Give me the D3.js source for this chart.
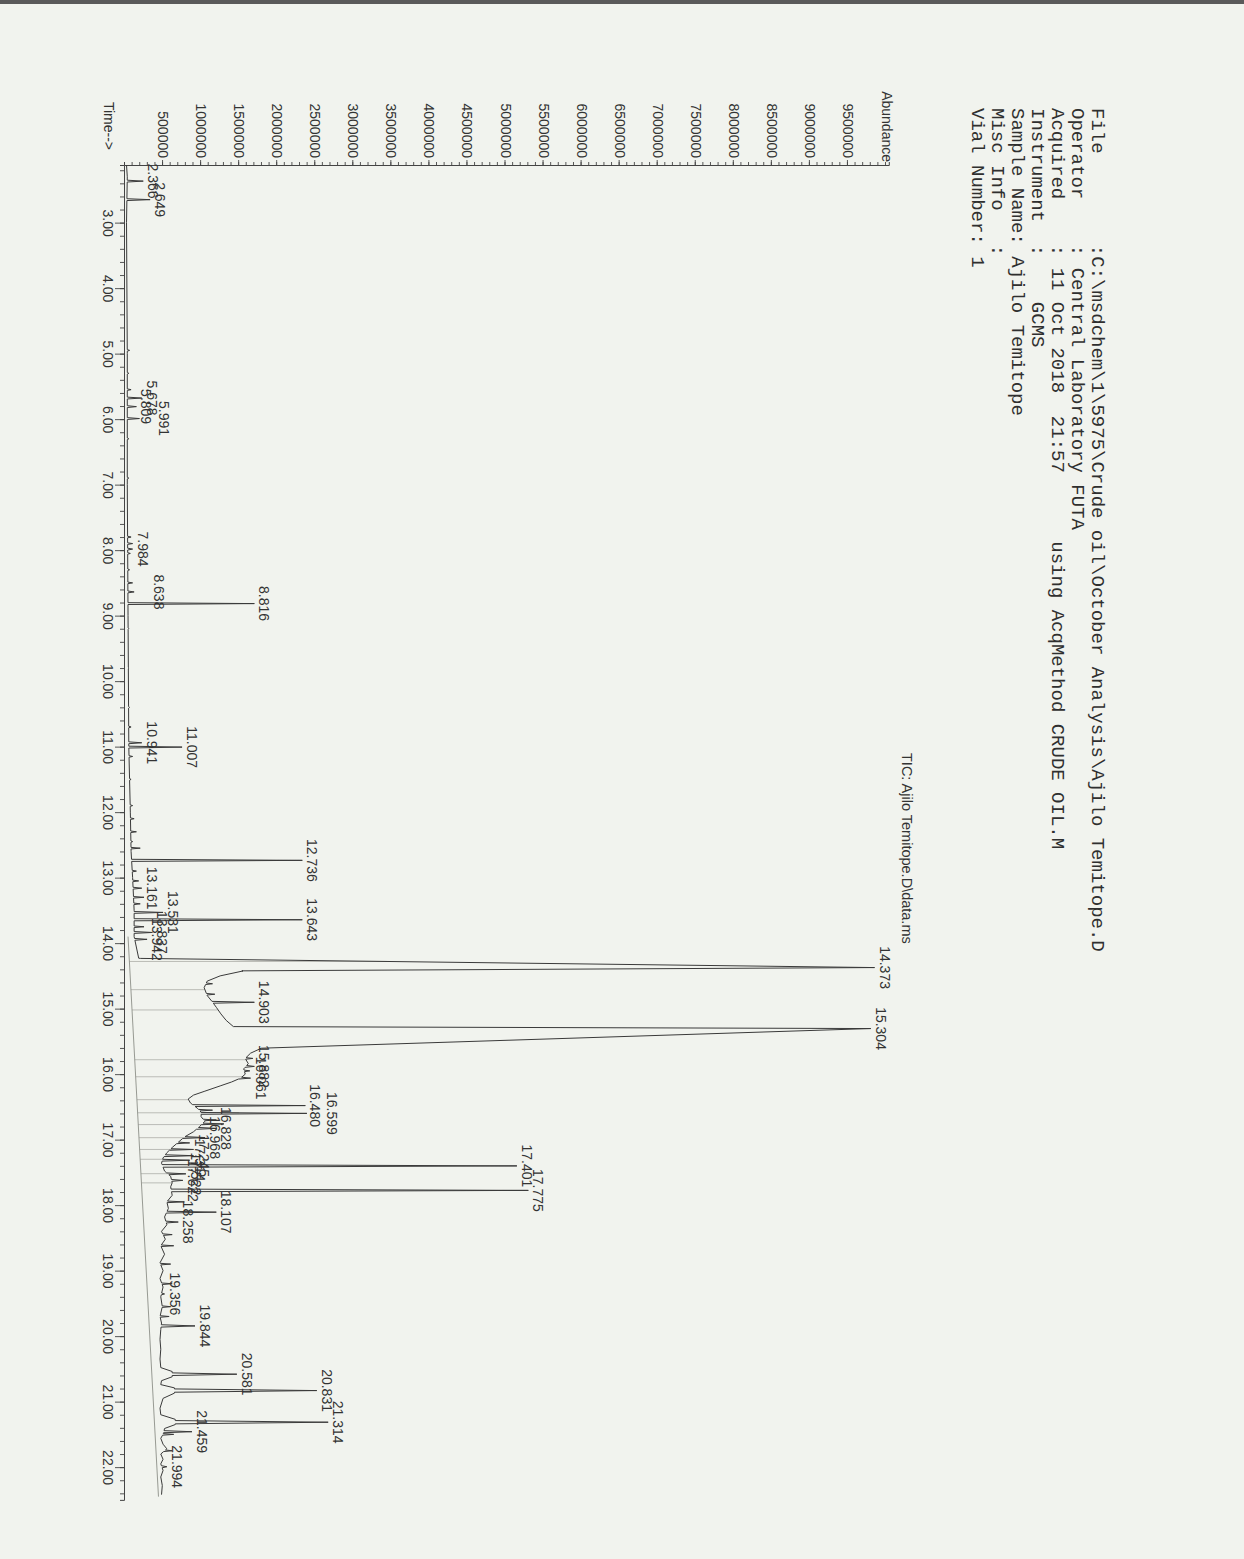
<!DOCTYPE html>
<html><head><meta charset="utf-8">
<script src="https://cdn.jsdelivr.net/npm/d3@7"></script>
<style>html,body{margin:0;padding:0;background:#f1f3ee;} svg{display:block}</style>
</head><body><svg id="c" width="1244" height="1559"></svg>
<script>
// ---------------- DATA ----------------
const headerLines = [
  "File        :C:\\msdchem\\1\\5975\\Crude oil\\October Analysis\\Ajilo Temitope.D",
  "Operator    : Central Laboratory FUTA",
  "Acquired    : 11 Oct 2018  21:57      using AcqMethod CRUDE OIL.M",
  "Instrument  :    GCMS",
  "Sample Name: Ajilo Temitope",
  "Misc Info   : ",
  "Vial Number: 1"
];
const ticLabel = "TIC: Ajilo Temitope.D\\data.ms";
const yAxisTitle = "Abundance";
const xAxisTitle = "Time-->";

const timeMin = 2.12, timeMax = 22.5;
const abundMax = 10050000;
const timeMajor = [3,4,5,6,7,8,9,10,11,12,13,14,15,16,17,18,19,20,21,22];
const abundTicks = [500000,1000000,1500000,2000000,2500000,3000000,3500000,4000000,4500000,5000000,5500000,6000000,6500000,7000000,7500000,8000000,8500000,9000000,9500000];

// labelled peaks: retention time, apex abundance, left / right base half-widths (min)
const peakRT    = [2.366,2.649,5.678,5.809,5.991,7.984,8.638,8.816,10.941,11.007,12.736,13.161,13.531,13.643,13.837,13.942,14.373,14.903,15.304,15.882,16.061,16.480,16.599,16.828,16.968,17.245,17.314,17.401,17.522,17.622,17.775,18.107,18.258,19.356,19.844,20.581,20.831,21.314,21.459,21.994];
const peakAbund = [240000,330000,220000,150000,190000,100000,120000,1700000,220000,750000,2330000,220000,500000,2330000,360000,290000,9850000,1700000,9800000,1700000,1650000,2370000,2390000,1200000,1050000,900000,850000,5150000,800000,760000,5300000,1200000,700000,520000,920000,1470000,2520000,2670000,880000,550000];
const peakWL    = [0.014,0.014,0.014,0.014,0.014,0.014,0.014,0.014,0.014,0.014,0.016,0.014,0.014,0.016,0.014,0.014,0.14,0.014,0.03,0.014,0.014,0.014,0.014,0.014,0.014,0.014,0.014,0.02,0.014,0.014,0.02,0.014,0.014,0.014,0.018,0.02,0.025,0.025,0.016,0.016];
const peakWR    = [0.014,0.014,0.014,0.014,0.014,0.014,0.014,0.014,0.014,0.014,0.016,0.014,0.014,0.016,0.014,0.014,0.05,0.014,0.30,0.014,0.014,0.014,0.014,0.014,0.014,0.014,0.014,0.02,0.014,0.014,0.02,0.014,0.014,0.014,0.018,0.02,0.025,0.025,0.016,0.016];

// small unlabelled peaks
const minorRT    = [4.95,5.30,5.55,6.30,6.90,7.80,7.90,8.05,8.30,8.50,9.20,9.80,10.40,10.70,11.15,11.50,11.90,12.10,12.30,12.45,12.55,12.90,13.05,13.30,13.40,13.75,14.62,14.78,15.76,15.95,16.55,16.70,16.76,17.05,17.15,17.95,18.45,18.62,18.90,19.20,19.55,19.70,21.50,21.75];
const minorAbund = [60000,50000,80000,50000,50000,80000,100000,70000,60000,100000,50000,50000,60000,80000,100000,80000,100000,120000,150000,100000,200000,150000,180000,250000,200000,250000,1150000,1180000,1680000,1640000,1150000,1200000,1300000,850000,900000,780000,620000,640000,600000,620000,600000,580000,640000,620000];

// background trace (baseline + unresolved hump)
const bgT = [2.12,2.30,3.00,5.00,7.00,9.00,11.00,12.00,12.60,13.00,13.50,13.90,14.23,14.425,14.50,14.58,14.68,14.80,14.90,14.98,15.08,15.18,15.27,15.60,15.68,15.76,15.84,15.92,16.00,16.06,16.12,16.18,16.26,16.32,16.38,16.44,16.52,16.58,16.65,16.72,16.80,16.88,16.96,17.04,17.12,17.20,17.28,17.36,17.48,17.56,17.66,17.72,17.85,17.95,18.05,18.18,18.30,18.40,18.52,18.62,18.75,18.88,19.00,19.12,19.25,19.40,19.55,19.70,19.80,19.90,20.05,20.20,20.35,20.48,20.54,20.62,20.68,20.74,20.79,20.87,20.95,21.10,21.20,21.27,21.35,21.41,21.50,21.56,21.65,21.72,21.80,21.88,21.95,22.05,22.15,22.28,22.42];
const bgA = [20000,30000,20000,30000,30000,40000,50000,70000,80000,100000,120000,120000,180000,1550000,1250000,1080000,1040000,1080000,1150000,1200000,1260000,1330000,1420000,1800000,1650000,1580000,1620000,1560000,1580000,1520000,1400000,1250000,1050000,900000,830000,860000,950000,1000000,1000000,1050000,980000,900000,780000,700000,620000,550000,500000,480000,520000,600000,620000,600000,620000,550000,570000,520000,550000,480000,530000,470000,520000,460000,500000,460000,500000,470000,490000,460000,480000,470000,460000,470000,460000,470000,620000,620000,480000,470000,650000,650000,500000,460000,470000,660000,660000,520000,500000,470000,500000,550000,470000,500000,470000,500000,470000,490000,480000];

// integration baseline and drop lines
const intBaseT = [13.90,22.45];
const intBaseA = [40000,440000];
const dropT = [14.28,14.71,15.02,15.78,16.04,16.39,16.59,16.77,16.97,17.15,17.30,17.52,17.66];

// ---------------- DRAW ----------------
const W = 1244, H = 1559;
const svg = d3.select('#c');
svg.append('rect').attr('width', W).attr('height', H).attr('fill', '#f1f3ee');
svg.append('rect').attr('width', W).attr('height', 4).attr('fill', '#5a5a5a');

// landscape page drawn rotated 90deg clockwise
const g = svg.append('g').attr('transform', `translate(${W},0) rotate(90)`);

const pxPerMin = 65.5, pxPerAbund = 76.1e-6;
const x = d3.scaleLinear().domain([timeMin, timeMax]).range([165, 165 + (timeMax - timeMin) * pxPerMin]);
const y = d3.scaleLinear().domain([0, abundMax]).range([1119, 1119 - abundMax * pxPerAbund]);

const ink = '#333';
const sans = "'Liberation Sans', Arial, sans-serif";

// header
g.append('g').selectAll('text').data(headerLines).join('text')
  .attr('x', 108).attr('y', (d, i) => 152 + i * 20)
  .attr('font-family', "'Liberation Mono', 'Courier New', monospace")
  .attr('font-size', 19).attr('fill', '#2f2f2f')
  .style('white-space', 'pre').text(d => d);

// TIC label
g.append('text').attr('x', 753).attr('y', 342).attr('font-family', sans)
  .attr('font-size', 14.5).attr('fill', ink).text(ticLabel);

// axis titles
g.append('text').attr('x', 162).attr('y', 362).attr('text-anchor', 'end')
  .attr('font-family', sans).attr('font-size', 14).attr('fill', ink).text(yAxisTitle);
g.append('text').attr('x', 150).attr('y', 1140).attr('text-anchor', 'end')
  .attr('font-family', sans).attr('font-size', 14).attr('fill', ink).text(xAxisTitle);

// time axis
const minorTimes = d3.range(Math.ceil(timeMin * 5), Math.floor(timeMax * 5) + 1).map(d => d / 5);
const xMinor = g.append('g').attr('transform', `translate(0,${y(0)})`)
  .call(d3.axisBottom(x).tickValues(minorTimes).tickSize(5).tickFormat(''));
const xMajor = g.append('g').attr('transform', `translate(0,${y(0)})`)
  .call(d3.axisBottom(x).tickValues(timeMajor).tickSize(10).tickPadding(2).tickFormat(d => d.toFixed(2)));
xMajor.select('.domain').remove();

// abundance axis
const minorAb = d3.range(1, Math.floor(abundMax / 100000) + 1).map(d => d * 100000);
const yMinor = g.append('g').attr('transform', `translate(${x(timeMin)},0)`)
  .call(d3.axisLeft(y).tickValues(minorAb).tickSize(3).tickFormat(''));
const yMajor = g.append('g').attr('transform', `translate(${x(timeMin)},0)`)
  .call(d3.axisLeft(y).tickValues(abundTicks).tickSize(5).tickPadding(2).tickFormat(d3.format('d')));
yMajor.select('.domain').remove();

[xMinor, xMajor, yMinor, yMajor].forEach(a => {
  a.attr('font-family', sans).attr('font-size', 14);
  a.selectAll('line').attr('stroke', '#444').attr('stroke-width', 0.9);
  a.selectAll('path').attr('stroke', '#444').attr('stroke-width', 1);
  a.selectAll('text').attr('fill', ink);
});

function interp(ts, as, t) {
  const i = d3.bisectRight(ts, t);
  if (i <= 0) return as[0];
  if (i >= ts.length) return as[as.length - 1];
  const f = (t - ts[i - 1]) / (ts[i] - ts[i - 1]);
  return as[i - 1] + (as[i] - as[i - 1]) * f;
}
const spikes = peakRT.map((rt, i) => ({rt, a: peakAbund[i], wl: peakWL[i], wr: peakWR[i]}))
  .concat(minorRT.map((rt, i) => ({rt, a: minorAbund[i], wl: 0.012, wr: 0.012})));
let pts = bgT.map((t, i) => [t, bgA[i]])
  .filter(p => !spikes.some(s => p[0] > s.rt - s.wl && p[0] < s.rt + s.wr));
spikes.forEach(s => {
  pts.push([s.rt - s.wl, interp(bgT, bgA, s.rt - s.wl)], [s.rt, s.a], [s.rt + s.wr, interp(bgT, bgA, s.rt + s.wr)]);
});
pts.sort((a, b) => a[0] - b[0]);
const ptsT = pts.map(p => p[0]), ptsA = pts.map(p => p[1]);

// drop lines (integration marks)
g.append('g').selectAll('line').data(dropT).join('line')
  .attr('x1', d => x(d)).attr('x2', d => x(d))
  .attr('y1', d => y(interp(intBaseT, intBaseA, d))).attr('y2', d => y(interp(ptsT, ptsA, d)))
  .attr('stroke', '#b4b6b0').attr('stroke-width', 0.9);

// integration baseline
g.append('path').datum(intBaseT.map((t, i) => [t, intBaseA[i]]))
  .attr('d', d3.line().x(d => x(d[0])).y(d => y(d[1])))
  .attr('fill', 'none').attr('stroke', '#8c8e88').attr('stroke-width', 0.9);

// chromatogram trace
g.append('path').datum(pts)
  .attr('d', d3.line().x(d => x(d[0])).y(d => y(d[1])))
  .attr('fill', 'none').attr('stroke', '#3a3a3a').attr('stroke-width', 1)
  .attr('stroke-linejoin', 'round');

// peak labels (bumped up one line only when they would sit on top of each other)
const placed = [];
const labW = 44;
peakRT.forEach((rt, i) => {
  const u = x(rt);
  let v = y(peakAbund[i]) - 5;
  let again = true;
  while (again) {
    again = false;
    for (const p of placed) {
      if (Math.abs(p.u - u) < labW && Math.abs(p.v - v) < 3) { v -= 15; again = true; }
    }
  }
  placed.push({u, v});
  g.append('text').attr('x', u).attr('y', v).attr('text-anchor', 'middle')
    .attr('font-family', sans).attr('font-size', 14).attr('fill', ink)
    .text(rt.toFixed(3));
});
</script>
</body></html>
